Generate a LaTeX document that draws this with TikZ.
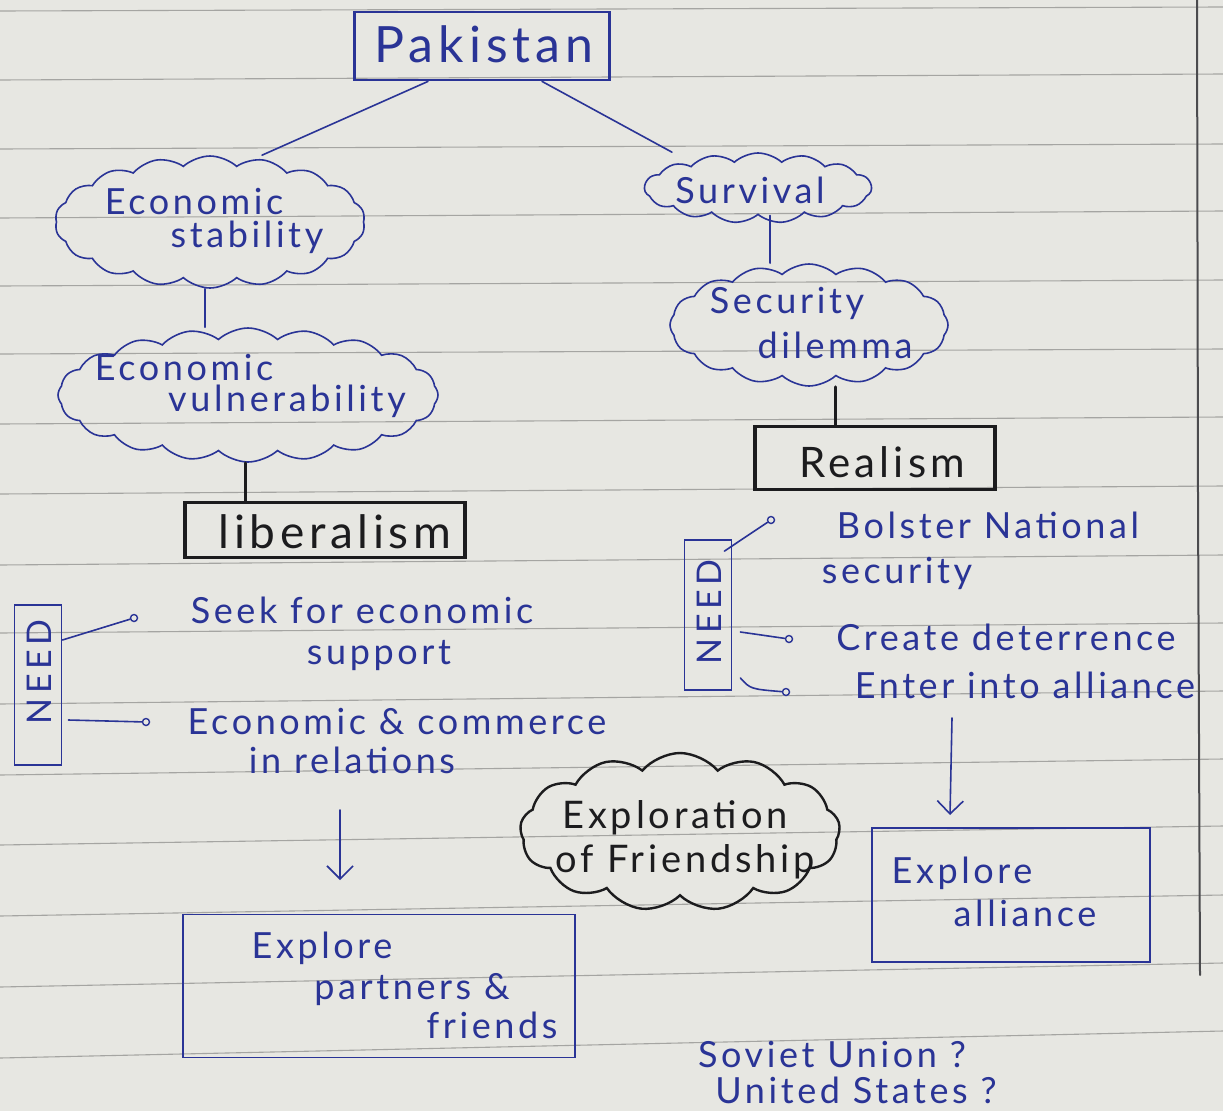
\documentclass[tikz,border=0pt]{standalone}
\usepackage{fontspec}
\setmainfont{Lato}
\newfontfamily\hand[LetterSpace=10]{Lato}
\newfontfamily\handwide[LetterSpace=14]{Lato}
\usetikzlibrary{shapes.symbols,arrows.meta}
\definecolor{ink}{RGB}{42,52,150}
\definecolor{blackink}{RGB}{28,28,30}
\definecolor{paper}{RGB}{231,231,226}
\definecolor{ruleline}{RGB}{165,165,162}
\definecolor{marginline}{RGB}{75,75,78}
\begin{document}
\begin{tikzpicture}[x=1pt,y=-1pt,
  txt/.style={text=ink, font=\hand\fontsize{36}{40}\selectfont, inner sep=0pt},
  bigtxt/.style={text=#1, font=\hand\fontsize{46}{50}\selectfont, inner sep=0pt},
  needtxt/.style={text=ink, font=\handwide\fontsize{34}{36}\selectfont, inner sep=0pt, rotate=90},
  inkbox/.style={draw=ink, line width=1.8pt, inner sep=0pt},
  blackbox/.style={draw=blackink, line width=3.2pt, inner sep=0pt},
  inkcloud/.style={cloud, cloud puffs=#1, cloud puff arc=85, draw=ink, line width=1.6pt, inner sep=0pt},
  blackcloud/.style={cloud, cloud puffs=#1, cloud puff arc=100, draw=blackink, line width=2.4pt, inner sep=0pt},
  inkline/.style={draw=ink, line width=1.6pt, line cap=round},
  blackline/.style={draw=blackink, line width=3pt, line cap=round},
  dot/.style={circle, draw=ink, line width=1.4pt, inner sep=0pt, minimum size=7pt},
  arr/.style={draw=ink, line width=1.6pt, line cap=round, -{Straight Barb[length=13pt,width=26pt,line width=1.6pt]}}
]
\useasboundingbox (0,0) rectangle (1223,1111);
\fill[paper] (0,0) rectangle (1223,1111);
% ruled paper
\foreach \a/\b in {11/7,80/74,149/144,218/211,286/280,354/349,424/417,494/486,565/555,633/623,704/691,775/759,845/826,916/895,987/963,1058/1031}
  \draw[ruleline, line width=1.1pt] (0,\a) -- (1223,\b);
\draw[marginline, line width=2pt, line cap=round] (1197,0) -- (1198,500) -- (1200,975);

% left branch
\node[draw=ink, line width=2.8pt, minimum width=255pt, minimum height=68pt] (pak) at (482,46) {};
\node[bigtxt=ink, font=\hand\fontsize{50}{52}\selectfont] (pakt) at (484,44) {Pakistan};

\node[inkcloud=18, minimum width=310pt, minimum height=132pt, aspect=2.4] (ecs) at (210,222) {};
\node[txt] (ecs1) at (194,201) {Economic};
\node[txt] (ecs2) at (247,237) {stability};

\node[inkcloud=20, minimum width=380pt, minimum height=134pt, aspect=2.9] (ecv) at (248,395) {};
\node[txt] (ecv1) at (184,367) {Economic};
\node[txt] (ecv2) at (287,401) {vulnerability};

\node[blackbox, minimum width=280pt, minimum height=55pt] (lib) at (325,530) {};
\node[bigtxt=blackink] (libt) at (335,532) {liberalism};

\node[inkbox, minimum width=47pt, minimum height=160pt] (need1) at (38,685) {};
\node[needtxt] (need1t) at (39,672) {NEED};
\node[dot] (c1) at (134,618) {};
\node[dot] (c2) at (146,722) {};
\node[txt] (s1a) at (362,610) {Seek for economic};
\node[txt] (s1b) at (379,655) {support};
\node[txt] (s2a) at (397,722) {Economic \& commerce};
\node[txt] (s2b) at (352,760) {in relations};

\coordinate (a1s) at (340,810);
\coordinate (a1e) at (340,880);

\node[inkbox, minimum width=392pt, minimum height=143pt] (ep) at (379,986) {};
\node[txt] (ep1) at (322,948) {Explore};
\node[txt] (ep2) at (412,990) {partners \&};
\node[txt] (ep3) at (492,1025) {friends};

% right branch
\node[inkcloud=15, minimum width=227pt, minimum height=70pt, aspect=3.2] (sur) at (758,188) {};
\node[txt] (surt) at (750,190) {Survival};

\node[inkcloud=16, minimum width=278pt, minimum height=122pt, aspect=2.3] (sec) at (809,325) {};
\node[txt] (sec1) at (787,303) {Security};
\node[txt] (sec2) at (835,345) {dilemma};

\node[blackbox, minimum width=240pt, minimum height=63pt] (real) at (875,458) {};
\node[bigtxt=blackink, font=\hand\fontsize{42}{46}\selectfont] (realt) at (882,462) {Realism};

\node[inkbox, minimum width=47pt, minimum height=150pt] (need2) at (708,615) {};
\node[needtxt] (need2t) at (709,612) {NEED};
\node[dot] (c3) at (771,520) {};
\node[dot] (c4) at (789,639) {};
\node[dot] (c5) at (786,692) {};
\node[txt] (r1a) at (988,525) {Bolster National};
\node[txt] (r1b) at (897,573) {security};
\node[txt] (r2) at (1006,637) {Create deterrence};
\node[txt] (r3) at (1025,685) {Enter into alliance};

\coordinate (a2s) at (952,718);
\coordinate (a2e) at (950,815);

\node[inkbox, minimum width=278pt, minimum height=134pt] (ea) at (1011,895) {};
\node[txt] (ea1) at (962,873) {Explore};
\node[txt] (ea2) at (1025,913) {alliance};

\node[blackcloud=13, minimum width=320pt, minimum height=158pt, aspect=2] (fr) at (680,832) {};
\node[bigtxt=blackink, font=\hand\fontsize{38}{42}\selectfont] (fr1) at (675,818) {Exploration};
\node[bigtxt=blackink, font=\hand\fontsize{38}{42}\selectfont] (fr2) at (685,862) {of Friendship};

\node[txt] (q1) at (832,1055) {Soviet Union ?};
\node[txt] (q2) at (856,1090) {United States ?};

% connectors
\draw[inkline] ([xshift=-54pt]pak.south) -- ([xshift=52pt]ecs.north);
\draw[inkline] ([xshift=60pt]pak.south) -- ([xshift=-86pt]sur.north);
\draw[inkline] ([xshift=-5pt]ecs.south) -- ([xshift=-43pt]ecv.north);
\draw[blackline] ([xshift=-3pt]ecv.south) -- ([xshift=-80pt]lib.north);
\draw[inkline] ([xshift=12pt]sur.south) -- ([xshift=-39pt]sec.north);
\draw[blackline] ([xshift=26pt]sec.south) -- ([xshift=-40pt]real.north);
\draw[inkline] ([yshift=45pt]need1.east) -- (c1);
\draw[inkline] ([xshift=6pt,yshift=-35pt]need1.east) -- (c2);
\draw[inkline] ([xshift=-8pt,yshift=-12pt]need2.north east) -- (c3);
\draw[inkline] ([xshift=8pt,yshift=-17pt]need2.east) -- (c4);
\draw[inkline] ([xshift=8pt,yshift=-63pt]need2.east) .. controls ([xshift=18pt,yshift=-74pt]need2.east) .. (c5);
\draw[arr] (a1s) -- (a1e);
\draw[arr] (a2s) -- (a2e);
\end{tikzpicture}
\end{document}
